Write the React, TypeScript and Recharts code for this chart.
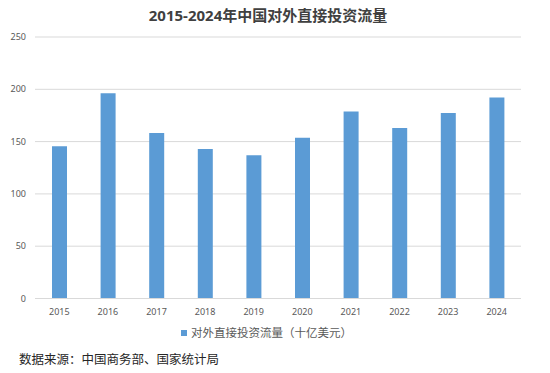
import { BarChart, Bar, CartesianGrid, XAxis, YAxis, Legend } from "recharts";

const years = ["2015", "2016", "2017", "2018", "2019", "2020", "2021", "2022", "2023", "2024"];
const flows = [145.67, 196.15, 158.29, 143.04, 136.91, 153.71, 178.82, 163.12, 177.29, 192.2];
const yTicks = [0, 50, 100, 150, 200, 250];

const seriesName = "对外直接投资流量（十亿美元）";
const font = '"Noto Sans", "Noto Sans CJK SC", sans-serif';

const data = years.map((year, i) => ({ year, value: flows[i] }));

function LegendContent() {
  return (
    <div
      style={{
        display: "flex",
        alignItems: "center",
        fontFamily: font,
        fontSize: 11.5,
        color: "#595959",
        paddingLeft: 181,
        lineHeight: "14px",
      }}
    >
      <span style={{ width: 6, height: 6, background: "#5b9bd5", display: "inline-block", marginRight: 4 }} />
      <span>{seriesName}</span>
    </div>
  );
}

export default function App() {
  return (
    <div
      style={{
        position: "absolute",
        left: 0,
        top: 0,
        width: 550,
        height: 373,
        background: "#fff",
        fontFamily: font,
      }}
    >
      <div
        style={{
          position: "absolute",
          left: 0,
          top: 4,
          width: 536,
          textAlign: "center",
          fontSize: 15,
          fontWeight: 700,
          color: "#404040",
          lineHeight: "22px",
        }}
      >
        2015-2024年中国对外直接投资流量
      </div>
      <BarChart
        width={550}
        height={373}
        data={data}
        margin={{ top: 37, right: 29, bottom: 44.5, left: 0 }}
      >
        <CartesianGrid stroke="#d9d9d9" vertical={false} />
        <XAxis
          dataKey="year"
          tickLine={false}
          tickSize={0}
          tickMargin={10}
          axisLine={{ stroke: "#d9d9d9" }}
          tick={{ fontSize: 9, fill: "#595959", fontFamily: font }}
          height={30}
          interval={0}
        />
        <YAxis
          domain={[0, 250]}
          ticks={yTicks}
          width={35}
          tickLine={false}
          tickSize={0}
          tickMargin={9}
          axisLine={false}
          tick={{ fontSize: 9, fill: "#595959", fontFamily: font }}
        />
        {/* zero-height wrapper so the legend does not shrink the plot area */}
        <Legend
          content={<LegendContent />}
          wrapperStyle={{ position: "absolute", top: 326, left: 0, width: 550, height: 0, overflow: "visible" }}
        />
        <Bar dataKey="value" name={seriesName} fill="#5b9bd5" barSize={15} isAnimationActive={false} />
      </BarChart>
      <div
        style={{
          position: "absolute",
          left: 19,
          top: 351,
          fontSize: 12.5,
          color: "#262626",
          lineHeight: "18px",
        }}
      >
        数据来源：中国商务部、国家统计局
      </div>
    </div>
  );
}
